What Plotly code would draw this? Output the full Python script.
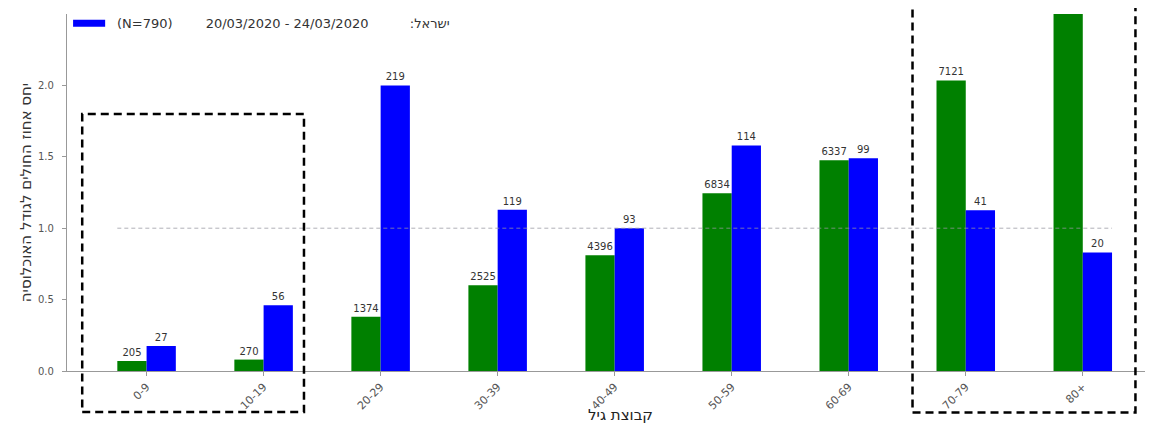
import plotly.graph_objects as go

# ---- data ----
age_groups = ["0-9", "10-19", "20-29", "30-39", "40-49", "50-59", "60-69", "70-79", "80+"]
# ratio of share of patients to share of population
green_ratio = [0.07, 0.08, 0.38, 0.60, 0.81, 1.245, 1.475, 2.035, 2.60]
green_counts = ["205", "270", "1374", "2525", "4396", "6834", "6337", "7121", ""]
blue_ratio = [0.175, 0.46, 2.0, 1.13, 1.0, 1.58, 1.49, 1.125, 0.83]
blue_counts = ["27", "56", "219", "119", "93", "114", "99", "41", "20"]
NB = "\u00a0"
blue_legend = "(N=790)" + NB * 8 + "20/03/2020 - 24/03/2020" + NB * 10 + ":ישראל"
y_ticks = [0.0, 0.5, 1.0, 1.5, 2.0]
y_title = "יחס אחוז החולים לגודל האוכלוסיה"
x_title = "קבוצת גיל"

FONT = "DejaVu Sans"
X_RANGE = [-0.68, 8.6]
Y_RANGE = [0.0, 2.5]

xs = list(range(len(age_groups)))

def px(x):
    return (x - X_RANGE[0]) / (X_RANGE[1] - X_RANGE[0])

def py(y):
    return (y - Y_RANGE[0]) / (Y_RANGE[1] - Y_RANGE[0])

fig = go.Figure()
fig.add_trace(go.Bar(
    x=xs, y=green_ratio, name="green", marker=dict(color="#008000", line=dict(width=0)),
    text=green_counts, textposition="outside", cliponaxis=True,
    textfont=dict(size=10, color="#333333", family=FONT), showlegend=False,
))
fig.add_trace(go.Bar(
    x=xs, y=blue_ratio, name="blue", marker=dict(color="#0000ff", line=dict(width=0)),
    text=blue_counts, textposition="outside", cliponaxis=True,
    textfont=dict(size=10, color="#333333", family=FONT), showlegend=False,
))

shapes = []
# reference line at ratio 1.0
shapes.append(dict(type="line", xref="x", yref="y", x0=-0.25, x1=len(age_groups) - 0.75,
                   y0=1.0, y1=1.0, line=dict(color="rgba(150,150,160,0.75)", width=1, dash="4px,3px"),
                   layer="above"))
# highlight boxes
box_style = dict(color="black", width=2.5, dash="8px,5px")
shapes.append(dict(type="rect", xref="paper", yref="paper",
                   x0=px(-0.55), x1=px(1.345), y0=py(-0.287), y1=py(1.80),
                   line=box_style, fillcolor="rgba(0,0,0,0)", layer="above"))
shapes.append(dict(type="rect", xref="paper", yref="paper",
                   x0=px(6.545), x1=px(8.45), y0=py(-0.29), y1=py(2.7),
                   line=box_style, fillcolor="rgba(0,0,0,0)", layer="above"))
# legend swatch for the blue series (legend drawn manually)
shapes.append(dict(type="rect", xref="paper", yref="paper",
                   x0=px(-0.628), x1=px(-0.354), y0=py(2.41), y1=py(2.46),
                   line=dict(width=0), fillcolor="#0000ff", layer="above"))

fig.update_layout(
    width=1153, height=423,
    margin=dict(l=59, r=8, t=6, b=60),
    plot_bgcolor="white", paper_bgcolor="white",
    barmode="group", bargap=0.5, bargroupgap=0,
    font=dict(family=FONT, color="#444444"),
    shapes=shapes,
    showlegend=False,
    xaxis=dict(range=X_RANGE, tickmode="array", tickvals=xs, ticktext=age_groups,
               tickangle=-45, tickfont=dict(size=11, color="#555555"),
               showline=True, linecolor="#999999", linewidth=1.2,
               ticks="outside", ticklen=4, tickcolor="#999999",
               showgrid=False, zeroline=False, automargin=False),
    yaxis=dict(range=Y_RANGE, tickmode="array", tickvals=y_ticks, tickformat=".1f",
               tickfont=dict(size=10, color="#555555"),
               showline=True, linecolor="#999999", linewidth=1.2,
               ticks="outside", ticklen=4, tickcolor="#999999", ticklabelstandoff=6,
               showgrid=False, zeroline=False, automargin=False,
               title=dict(text=y_title, font=dict(size=15, color="#333333"), standoff=2)),
    annotations=[
        dict(text=x_title, xref="paper", yref="paper", x=0.51, y=py(-0.305),
             xanchor="center", yanchor="middle", showarrow=False,
             font=dict(size=15, color="#222222", family=FONT)),
        dict(text=blue_legend, xref="paper", yref="paper", x=px(-0.27), y=py(2.435),
             xanchor="left", yanchor="middle", showarrow=False,
             font=dict(size=13, color="#333333", family=FONT)),
    ],
)

fig.write_html("out.html")
